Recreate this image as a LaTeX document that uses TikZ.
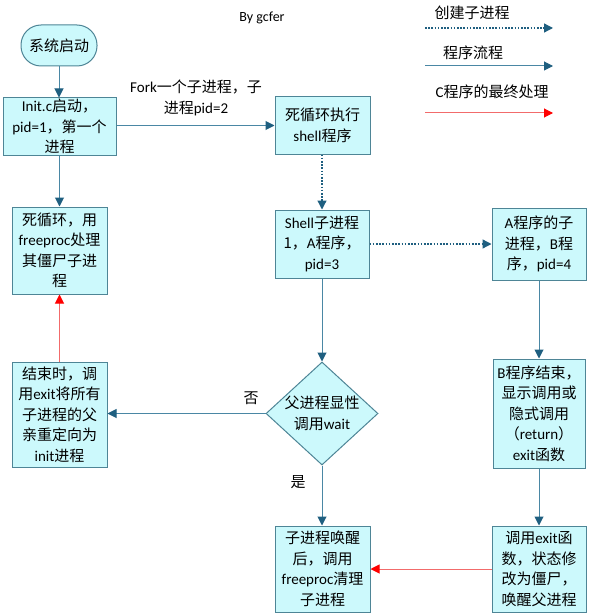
\documentclass[tikz,border=0pt]{standalone}
\usepackage{fontspec}
\setmainfont{Noto Sans CJK SC}
\newfontfamily\lat{Carlito}
\usetikzlibrary{arrows.meta,shapes.geometric}
\definecolor{boxfill}{HTML}{CCF9FC}
\definecolor{boxdraw}{HTML}{4E8596}
\definecolor{flow}{HTML}{4A87A4}
\definecolor{flowtip}{HTML}{1F5F80}
\definecolor{redline}{HTML}{F26B6B}
\definecolor{redtip}{HTML}{FF0000}
\begin{document}
\begin{tikzpicture}[x=1pt,y=-1pt,
  box/.style={draw=boxdraw,fill=boxfill,line width=1pt,inner sep=0pt,align=center,
    font=\fontsize{15}{20.5}\selectfont},
  lbl/.style={inner sep=0pt,align=center,font=\fontsize{15}{20.5}\selectfont},
  flowline/.style={draw=flow,line width=1pt,-{Triangle[length=9pt,width=9pt,color=flowtip]}},
  childline/.style={flowline,draw=flowtip,line width=1.3pt,dash pattern=on 1.6pt off 1.6pt},
  endline/.style={draw=redline,line width=1pt,-{Triangle[length=9pt,width=9pt,color=redtip]}}]
\useasboundingbox (0,0) rectangle (592,615);

% nodes
\node[box,rounded corners=20pt,minimum width=76pt,minimum height=41pt] (start) at (59,45.5) {系统启动};
\node[box,minimum width=113pt,minimum height=57pt] (init) at (59.5,126.5) {{\lat Init.c}启动，\\{\lat pid=1}，第一个\\进程};
\node[box,minimum width=95pt,minimum height=57pt] (shl) at (322.5,125.5) {死循环执行\\{\lat shell}程序};
\node[box,minimum width=95pt,minimum height=87pt] (dead) at (59.5,250.5) {死循环，用\\{\lat freeproc}处理\\其僵尸子进\\程};
\node[box,minimum width=94pt,minimum height=68pt] (shc) at (322,244) {{\lat Shell}子进程\\1，{\lat A}程序，\\{\lat pid=3}};
\node[box,minimum width=94pt,minimum height=72pt] (ach) at (539,244) {{\lat A}程序的子\\进程，{\lat B}程\\序，{\lat pid=4}};
\node[draw=boxdraw,fill=boxfill,line width=1pt,diamond,inner sep=0pt,minimum width=112pt,minimum height=103pt] (dia) at (322,413.5) {};
\node[lbl] (diatext) at (dia.center) {父进程显性\\调用{\lat wait}};
\node[box,minimum width=95pt,minimum height=105pt] (lend) at (59.5,414.5) {结束时，调\\用{\lat exit}将所有\\子进程的父\\亲重定向为\\{\lat init}进程};
\node[box,minimum width=92pt,minimum height=109pt] (bend) at (539,413.5) {{\lat B}程序结束，\\显示调用或\\隐式调用\\（{\lat return}）\\{\lat exit}函数};
\node[box,minimum width=95pt,minimum height=86pt] (bch) at (322.5,569) {子进程唤醒\\后，调用\\{\lat freeproc}清理\\子进程};
\node[box,minimum width=94pt,minimum height=86pt] (exb) at (539,569) {调用{\lat exit}函\\数，状态修\\改为僵尸，\\唤醒父进程};

% texts
\node[lbl,font=\lat\fontsize{14}{17}\selectfont] (by) at (262,18) {By gcfer};
\node[lbl] (fork) at (196,98) {{\lat Fork}一个子进程，子\\进程{\lat pid=2}};
\node[lbl] (no) at (251,398) {否};
\node[lbl] (yes) at (298,482) {是};

% legend
\node[lbl] (lg1) at (472,13) {创建子进程};
\node[lbl] (lg2) at (473,53) {程序流程};
\node[lbl] (lg3) at (492,92) {{\lat C}程序的最终处理};
\coordinate (l1a) at (425,28); \coordinate (l1b) at (553,28);
\coordinate (l2a) at (425,66); \coordinate (l2b) at (553,66);
\coordinate (l3a) at (425,113); \coordinate (l3b) at (553,113);
\draw[childline] (l1a) -- (l1b);
\draw[flowline] (l2a) -- (l2b);
\draw[endline] (l3a) -- (l3b);

% connectors
\draw[flowline] (start.south) -- (start.south |- init.north);
\draw[flowline] (init.east |- shl.west) -- (shl.west);
\draw[flowline] (init.south -| dead.north) -- (dead.north);
\draw[childline] (shl.south -| shc.north) -- (shc.north);
\draw[childline] (shc.east) -- (shc.east -| ach.west);
\draw[flowline] (shc.south) -- (dia.north);
\draw[flowline] (ach.south) -- (ach.south |- bend.north);
\draw[flowline] (dia.west) -- (dia.west -| lend.east);
\draw[flowline] (dia.south) -- (dia.south |- bch.north);
\draw[endline] (lend.north) -- (dead.south);
\draw[flowline] (bend.south) -- (bend.south |- exb.north);
\draw[endline] (exb.west) -- (exb.west -| bch.east);
\end{tikzpicture}
\end{document}
